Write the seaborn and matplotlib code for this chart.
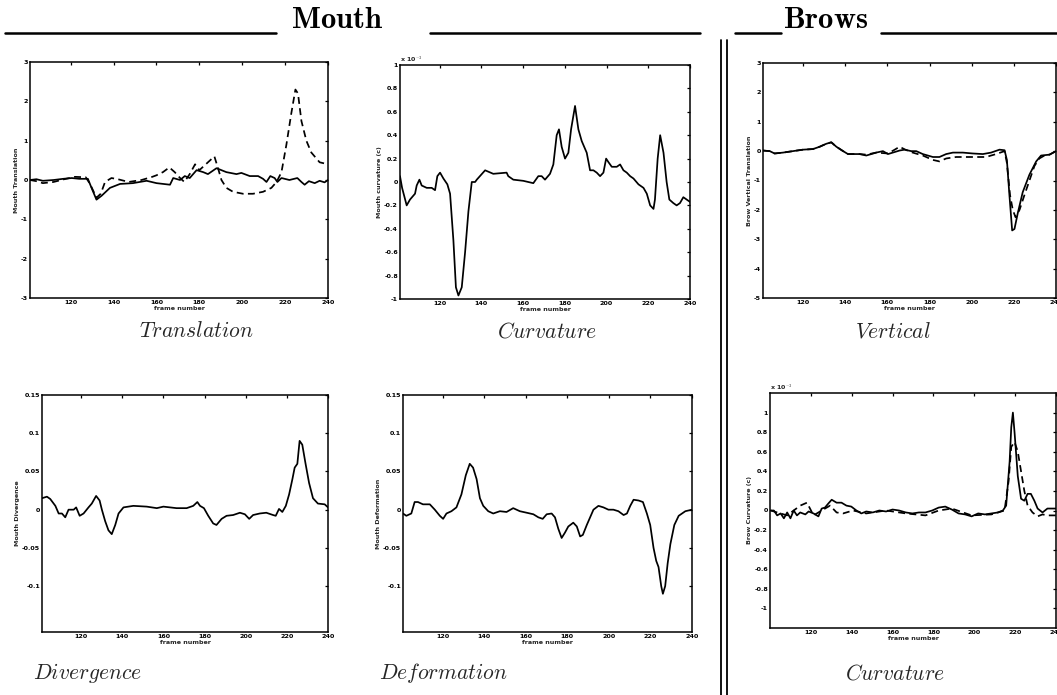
import numpy as np
import pandas as pd
import matplotlib
matplotlib.use("Agg")
import matplotlib.pyplot as plt
from matplotlib.lines import Line2D
from matplotlib.ticker import FuncFormatter, FixedLocator
import seaborn as sns

# ---------------- data ----------------
# Mouth translation
trans_f_solid = [101, 104, 107, 112, 116.5, 120.5, 124, 128, 129.7, 132, 134.4, 138.3, 143, 149, 155.4, 160,
                 166.3, 167.8, 171, 173.2, 175.5, 178.7, 181.8, 184, 188, 192.6, 197.3, 199.6, 203.5, 207.4,
                 209.7, 211.3, 213.1, 215.1, 216.4, 218.3, 222, 225.7, 227.6, 229.1, 231.1, 233.8, 236.1, 238.4, 240]
trans_solid = [0.0, 0.02, -0.02, 0.0, 0.03, 0.05, 0.03, 0.03, -0.2, -0.5, -0.4, -0.2, -0.1, -0.08, -0.02, -0.08,
               -0.12, 0.05, 0.0, 0.1, 0.05, 0.25, 0.2, 0.15, 0.3, 0.2, 0.15, 0.18, 0.1, 0.1,
               0.03, -0.05, 0.1, 0.05, -0.05, 0.05, 0.0, 0.05, -0.05, -0.12, -0.03, -0.08, -0.02, -0.06, 0.0]
trans_f_dash = [101, 104, 107, 112, 117, 122, 127, 129, 132, 134, 136, 139, 142, 147, 153, 158, 160, 163, 166,
                168.5, 171, 173, 175.5, 178, 180, 183, 187, 188.7, 190.3, 192.6, 195.7, 200.4, 205, 209.7, 213.6,
                216, 218.3, 220.6, 222.9, 224.8, 226, 227.6, 229.9, 232.2, 236.1, 240]
trans_dash = [0.0, -0.03, -0.08, -0.05, 0.02, 0.08, 0.07, -0.1, -0.45, -0.35, -0.05, 0.05, 0.02, -0.05, 0.0, 0.08,
              0.12, 0.2, 0.32, 0.2, 0.05, -0.05, 0.15, 0.4, 0.25, 0.4, 0.6, 0.3, 0.0, -0.2, -0.3, -0.35, -0.35,
              -0.3, -0.2, -0.05, 0.2, 0.9, 1.7, 2.3, 2.2, 1.5, 1.0, 0.7, 0.45, 0.4]

# Mouth curvature (x 10^-3)
curv_f = [101, 102, 104.2, 105.8, 108.2, 109, 110.3, 111.4, 113.8, 116.2, 117.8, 118.9, 120.2, 121.8, 123.7,
          125, 126.6, 127.8, 129, 130.6, 132.2, 133.8, 135.4, 137, 137.8, 141.8, 145.7, 152.1, 152.9, 155.3,
          160.1, 164.9, 167.3, 168.9, 170.5, 172.9, 174.5, 176.1, 177.2, 178.5, 180.1, 181.7, 183, 184.9, 186.5,
          188.1, 190.5, 192.1, 193.7, 195.3, 196.9, 198.5, 199.8, 200.9, 202.5, 204.9, 206.5, 208.1, 209.7,
          211.3, 212.9, 215.3, 217.7, 219.3, 220.9, 222.5, 223.2, 224.5, 225.7, 227.3, 228.8, 230.1, 232,
          233.6, 235.2, 236.8, 238.4, 240]
curv_vals = [0.05, -0.05, -0.2, -0.15, -0.1, -0.03, 0.02, -0.03, -0.05, -0.05, -0.07, 0.05, 0.08, 0.03, -0.02,
             -0.1, -0.5, -0.9, -0.97, -0.9, -0.6, -0.25, 0.0, 0.0, 0.02, 0.1, 0.07, 0.08, 0.05, 0.02,
             0.01, -0.01, 0.05, 0.05, 0.02, 0.07, 0.15, 0.4, 0.45, 0.3, 0.2, 0.25, 0.45, 0.65, 0.45,
             0.35, 0.25, 0.1, 0.1, 0.08, 0.05, 0.08, 0.2, 0.17, 0.13, 0.13, 0.15, 0.1, 0.08,
             0.05, 0.03, -0.02, -0.05, -0.1, -0.2, -0.23, -0.15, 0.2, 0.4, 0.25, 0.0, -0.15, -0.18,
             -0.2, -0.18, -0.13, -0.15, -0.17]

# Brow vertical translation
vert_f_solid = [101, 104.2, 106.5, 110.5, 115.2, 120, 124.7, 127.9, 131, 133.4, 135.8, 139, 141.3, 146.8, 150,
                152.4, 154.7, 157.9, 160.3, 162.6, 165.8, 168.2, 171.3, 173.7, 176.8, 181.6, 184.7, 187.9, 191.1,
                195.8, 200.5, 205.3, 209.2, 213.2, 215.6, 216.7, 217.9, 219.2, 220.3, 221.9, 224.2, 227.4, 230.6,
                232.9, 236.9, 240]
vert_solid = [0.02, 0.0, -0.08, -0.05, 0.0, 0.05, 0.07, 0.15, 0.25, 0.3, 0.15, 0.0, -0.1, -0.1, -0.15,
              -0.1, -0.05, 0.0, -0.1, -0.05, 0.02, 0.05, 0.0, 0.0, -0.1, -0.2, -0.2, -0.1, -0.05,
              -0.05, -0.08, -0.1, -0.05, 0.05, 0.03, -0.3, -1.5, -2.7, -2.65, -2.1, -1.4, -0.8, -0.35,
              -0.15, -0.12, 0.0]
vert_f_dash = [101, 104.2, 106.5, 110.5, 115.2, 120, 124.7, 127.9, 131, 133.4, 135.8, 139, 141.3, 146.8, 150,
               154.7, 160.3, 163.5, 165.8, 168.5, 172, 176.8, 181.6, 184.7, 187.9, 192.6, 200.5, 206.8, 211.6,
               215.6, 216.7, 218.2, 219.5, 220.8, 222.7, 225, 227.4, 229.8, 232.1, 234.5, 236.9, 240]
vert_dash = [0.02, 0.0, -0.08, -0.05, 0.0, 0.05, 0.07, 0.15, 0.25, 0.3, 0.15, 0.0, -0.1, -0.1, -0.12,
             -0.05, -0.08, 0.05, 0.15, 0.05, -0.05, -0.15, -0.3, -0.35, -0.25, -0.2, -0.2, -0.2, -0.1,
             0.0, -0.4, -1.5, -2.0, -2.25, -2.0, -1.5, -1.0, -0.5, -0.25, -0.15, -0.12, 0.0]

# Mouth divergence
div_f = [101, 103.4, 105, 107.5, 109.1, 110.7, 112.3, 113.9, 116.4, 117.6, 119.3, 121.2, 123.6, 125.2, 127.3,
         129, 130.1, 131.7, 133.3, 134.9, 136.6, 138.2, 140.6, 145.4, 151.9, 156.8, 160, 166.4, 171.3, 174.5,
         176.5, 177.8, 179.7, 181.8, 184.2, 185.8, 188.3, 190.7, 193.9, 197.2, 199.6, 201.7, 203.6, 206.8,
         210, 213.3, 214.6, 216.2, 217.8, 219.5, 221.1, 222.7, 223.8, 225.1, 226.2, 227.5, 229.1, 230.8,
         232.7, 235.1, 238.4, 240]
div_vals = [0.015, 0.017, 0.014, 0.005, -0.005, -0.005, -0.01, 0.0, 0.0, 0.003, -0.008, -0.005, 0.003, 0.008, 0.018,
            0.012, 0.0, -0.015, -0.027, -0.032, -0.02, -0.005, 0.003, 0.005, 0.004, 0.002, 0.004, 0.002, 0.002, 0.005,
            0.01, 0.005, 0.002, -0.008, -0.018, -0.02, -0.012, -0.008, -0.007, -0.004, -0.006, -0.012, -0.007, -0.005,
            -0.004, -0.007, -0.008, 0.001, -0.003, 0.005, 0.02, 0.04, 0.055, 0.06, 0.09, 0.085, 0.06, 0.035,
            0.015, 0.008, 0.007, 0.003]

# Mouth deformation
def_f = [101, 102.6, 105, 106.6, 108.2, 110.6, 113.9, 116.3, 118.7, 120.3, 121.9, 124.3, 126.7, 129.1, 131.2,
         133.1, 134.7, 136.4, 138, 139.6, 142, 144.4, 147.6, 150.8, 154, 157.2, 160.5, 163.7, 166.1, 168.2,
         170.1, 172.5, 174.1, 175.7, 177.3, 178.9, 180.5, 182.9, 184.6, 186.2, 187.5, 189.4, 191, 192.6, 195,
         197.4, 199.8, 202.2, 204.6, 207.1, 208.7, 210.3, 211.9, 214.3, 216.4, 218.3, 219.9, 221.5, 222.8,
         223.9, 225.2, 226, 227.1, 228.3, 229.6, 231.5, 233.6, 236.8, 240]
def_vals = [-0.005, -0.008, -0.005, 0.01, 0.01, 0.007, 0.007, 0.0, -0.008, -0.012, -0.005, -0.002, 0.003, 0.02,
            0.045, 0.06, 0.055, 0.04, 0.015, 0.005, -0.002, -0.005, -0.002, -0.003, 0.002, -0.002, -0.004, -0.006,
            -0.01, -0.012, -0.006, -0.005, -0.01, -0.025, -0.037, -0.03, -0.022, -0.017, -0.022, -0.035, -0.033,
            -0.02, -0.01, 0.0, 0.005, 0.003, 0.0, 0.0, -0.002, -0.007, -0.005, 0.005, 0.013, 0.012, 0.01, -0.005,
            -0.02, -0.05, -0.067, -0.075, -0.1, -0.11, -0.1, -0.07, -0.045, -0.02, -0.008, -0.002, 0.0]

# Brow curvature (x 10^-3)
bcurv_f_solid = [100.3, 101.9, 103.5, 105.2, 106.8, 108.4, 110, 111.6, 113.2, 114.8, 117.3, 118.9, 121.3, 123.7,
                 125.3, 126.9, 128.5, 130.2, 132.6, 135, 137.4, 139.8, 142.3, 144.7, 147.1, 150.3, 153.5, 156.8,
                 160, 163.2, 166.5, 169.7, 172.9, 176.1, 179.4, 182.6, 185.8, 189, 192.3, 195.5, 198.7, 201.9,
                 205.2, 208.4, 211.6, 214, 215.6, 217.3, 218.1, 218.9, 219.7, 221.3, 222.9, 224.5, 226.1, 227.7,
                 229.4, 231, 233.4, 235.8, 240]
bcurv_solid = [0.0, 0.0, -0.05, -0.03, -0.08, -0.02, -0.08, 0.0, -0.05, -0.02, -0.04, -0.01, -0.03, -0.06,
               0.02, 0.03, 0.07, 0.11, 0.08, 0.08, 0.05, 0.04, 0.0, -0.03, -0.01, -0.02, 0.0, -0.01,
               0.01, 0.0, -0.02, -0.03, -0.02, -0.02, 0.0, 0.03, 0.04, 0.01, -0.03, -0.04, -0.06, -0.03,
               -0.04, -0.03, -0.02, 0.0, 0.05, 0.5, 0.85, 1.0, 0.8, 0.35, 0.12, 0.1, 0.17, 0.17,
               0.1, 0.02, -0.02, 0.02, 0.02]
bcurv_f_dash = [100.3, 108.4, 114.8, 118.1, 121.3, 125.3, 129.4, 132.6, 135.8, 140.6, 147.1, 156.8, 166.5, 176.1,
                182.6, 189, 198.7, 208.4, 214.8, 216.8, 218.1, 219.7, 221.3, 222.9, 224.5, 226.1, 228.5, 231,
                233.4, 235.8, 240]
bcurv_dash = [0.0, -0.05, 0.05, 0.08, -0.05, 0.0, 0.05, -0.02, -0.03, 0.0, -0.03, 0.0, -0.03, -0.05,
              0.0, 0.02, -0.05, -0.04, 0.0, 0.3, 0.65, 0.7, 0.6, 0.4, 0.2, 0.05, -0.02, -0.06,
              -0.04, -0.05, -0.05]

x_ticks = [120, 140, 160, 180, 200, 220, 240]

# ---------------- figure ----------------
sns.set_style("white")
plt.rcParams["font.family"] = ["DejaVu Sans"]
plt.rcParams["mathtext.fontset"] = "cm"

W, H = 1057, 695
fig = plt.figure(figsize=(W / 100, H / 100), dpi=100)


def px_axes(x0, y0, x1, y1):
    return fig.add_axes([x0 / W, 1 - y1 / H, (x1 - x0) / W, (y1 - y0) / H])


def fmt(v, pos):
    return "%g" % round(v, 6)


def style_axes(ax, xlim, ylim, yticks, ylabel):
    ax.set_xlim(*xlim)
    ax.set_ylim(*ylim)
    ax.xaxis.set_major_locator(FixedLocator(x_ticks))
    ax.yaxis.set_major_locator(FixedLocator(yticks))
    ax.yaxis.set_major_formatter(FuncFormatter(fmt))
    ax.xaxis.set_major_formatter(FuncFormatter(fmt))
    ax.tick_params(direction="in", top=True, right=True, length=2.5, width=0.9,
                   labelsize=4.6, pad=1.5, colors="black")
    for lab in ax.get_xticklabels() + ax.get_yticklabels():
        lab.set_fontweight("bold")
    for sp in ax.spines.values():
        sp.set_linewidth(1.1)
        sp.set_color("black")
    ax.set_xlabel("frame number", fontsize=4.6, fontweight="bold", labelpad=0.5)
    ax.set_ylabel(ylabel, fontsize=4.6, fontweight="bold", labelpad=1.5)
    ax.set_facecolor("white")


def draw(ax, f, v, dashed=False):
    df = pd.DataFrame({"frame": f, "value": v})
    sns.lineplot(data=df, x="frame", y="value", ax=ax, color="black", linewidth=1.25,
                 linestyle=(0, (4, 2.5)) if dashed else "-", estimator=None, sort=False)


# Panel 1: Translation
ax1 = px_axes(30, 62, 328, 298)
draw(ax1, trans_f_solid, trans_solid)
draw(ax1, trans_f_dash, trans_dash, dashed=True)
style_axes(ax1, (101, 240), (-3, 3), [-3, -2, -1, 0, 1, 2, 3], "Mouth Translation")

# Panel 2: Curvature
ax2 = px_axes(400, 65, 690, 299)
draw(ax2, curv_f, curv_vals)
style_axes(ax2, (101, 240), (-1, 1), [-1, -0.8, -0.6, -0.4, -0.2, 0, 0.2, 0.4, 0.6, 0.8, 1],
           "Mouth curvature (c)")
ax2.text(0.0, 1.005, r"x 10$^{-3}$", transform=ax2.transAxes, fontsize=4.6, fontweight="bold",
         ha="left", va="bottom")

# Panel 3: Vertical
ax3 = px_axes(763, 63, 1056, 298)
draw(ax3, vert_f_solid, vert_solid)
draw(ax3, vert_f_dash, vert_dash, dashed=True)
style_axes(ax3, (101, 240), (-5, 3), [-5, -4, -3, -2, -1, 0, 1, 2, 3], "Brow Vertical Translation")

# Panel 4: Divergence
ax4 = px_axes(42, 395, 328, 632)
draw(ax4, div_f, div_vals)
style_axes(ax4, (101, 240), (-0.16, 0.15), [-0.1, -0.05, 0, 0.05, 0.1, 0.15], "Mouth Divergence")

# Panel 5: Deformation
ax5 = px_axes(403, 395, 692, 632)
draw(ax5, def_f, def_vals)
style_axes(ax5, (101, 240), (-0.16, 0.15), [-0.1, -0.05, 0, 0.05, 0.1, 0.15], "Mouth Deformation")

# Panel 6: Brow curvature
ax6 = px_axes(770, 393, 1056, 628)
draw(ax6, bcurv_f_solid, bcurv_solid)
draw(ax6, bcurv_f_dash, bcurv_dash, dashed=True)
style_axes(ax6, (100, 240), (-1.2, 1.2), [-1, -0.8, -0.6, -0.4, -0.2, 0, 0.2, 0.4, 0.6, 0.8, 1],
           "Brow Curvature (c)")
ax6.text(0.0, 1.005, r"x 10$^{-3}$", transform=ax6.transAxes, fontsize=4.6, fontweight="bold",
         ha="left", va="bottom")

# ---------------- titles & decorations ----------------
def ftext(x, y, s, **kw):
    fig.text(x / W, 1 - y / H, s, **kw)


title_size = 15.5
ftext(196, 331, r"$\mathit{Translation}$", fontsize=title_size, ha="center", va="center")
ftext(547, 331, r"$\mathit{Curvature}$", fontsize=title_size, ha="center", va="center")
ftext(893, 331, r"$\mathit{Vertical}$", fontsize=title_size, ha="center", va="center")
ftext(88, 673, r"$\mathit{Divergence}$", fontsize=title_size, ha="center", va="center")
ftext(443, 673, r"$\mathit{Deformation}$", fontsize=title_size, ha="center", va="center")
ftext(895, 673, r"$\mathit{Curvature}$", fontsize=title_size, ha="center", va="center")

ftext(337, 28, r"$\mathbf{Mouth}$", fontsize=22, ha="center", va="baseline", color="black")
ftext(826, 28, r"$\mathbf{Brows}$", fontsize=22, ha="center", va="baseline", color="black")


def hline(x0, x1, y):
    fig.add_artist(Line2D([x0 / W, x1 / W], [1 - y / H, 1 - y / H], color="black", linewidth=1.8))


def vline(x, y0, y1):
    fig.add_artist(Line2D([x / W, x / W], [1 - y0 / H, 1 - y1 / H], color="black", linewidth=1.3))


hline(5, 276, 33)
hline(430, 700, 33)
hline(735, 781, 33)
hline(881, 1057, 33)
vline(721, 40, 695)
vline(727, 40, 695)

fig.savefig("out.png", dpi=100, facecolor="white")
